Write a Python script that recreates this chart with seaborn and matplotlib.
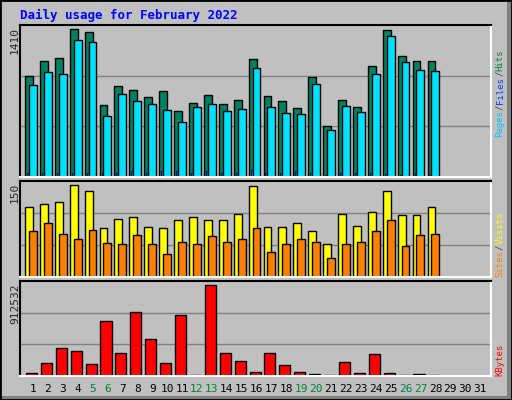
import numpy as np
import matplotlib
matplotlib.use('Agg')
import matplotlib.pyplot as plt
import seaborn as sns
from matplotlib.patches import Rectangle

# === DATA ===
days = np.arange(1, 29)
hits = [960, 1104, 1132, 1410, 1381, 683, 864, 826, 759, 817, 625, 702, 778, 692,
        730, 1123, 769, 721, 654, 951, 482, 730, 664, 1056, 1400, 1152, 1104, 1104]
files = [874, 998, 979, 1305, 1286, 577, 788, 721, 692, 635, 520, 664, 692, 625,
         644, 1037, 664, 606, 597, 884, 443, 673, 616, 979, 1343, 1094, 1018, 1008]
pages = [35, 40, 40, 40, 40, 35, 40, 55, 40, 55, 55, 35, 55, 40,
         35, 65, 40, 40, 55, 40, 20, 35, 35, 40, 30, 20, 35, 20]
visits = [114, 119, 122, 150, 139, 79, 95, 98, 82, 79, 92, 98, 92, 92,
          103, 148, 82, 82, 87, 74, 53, 103, 83, 106, 139, 101, 100, 114]
sites = [74, 87, 70, 62, 77, 56, 54, 69, 53, 38, 57, 54, 67, 57,
         61, 79, 41, 53, 62, 57, 31, 54, 57, 74, 92, 51, 69, 70]
kbytes = [33300, 133000, 283000, 253000, 123000, 553000, 233000, 643000, 373000, 133000,
          613000, 13000, 912532, 233000, 153000, 43000, 233000, 113000, 43000, 23000,
          13000, 143000, 33000, 223000, 33000, 13000, 23000, 13000]
weekend = [5, 6, 12, 13, 19, 20, 26, 27]

sns.set_style('white')
plt.rcParams['font.family'] = ['DejaVu Sans Mono', 'DejaVu Sans']

W, H = 512, 400
fig = plt.figure(figsize=(W / 100, H / 100), dpi=100, facecolor='#C0C0C0')
# outer frame with shadow on right / bottom
fig.patches.append(Rectangle((507 / W, 0), 5 / W, 1, transform=fig.transFigure,
                             facecolor='#808080', edgecolor='none'))
fig.patches.append(Rectangle((0, 0), 1, 4 / H, transform=fig.transFigure,
                             facecolor='#808080', edgecolor='none'))
fig.patches.append(Rectangle((0, 0), 1, 1, transform=fig.transFigure, fill=False,
                             edgecolor='black', lw=2))


def make_ax(top, bottom):
    ax = fig.add_axes([20 / W, 1 - bottom / H, 471 / W, (bottom - top) / H])
    ax.set_facecolor('#C0C0C0')
    ax.set_xlim(0.13, 31.73)
    for s in ax.spines.values():
        s.set_color('white')
        s.set_linewidth(1.5)
    ax.spines['left'].set_color('black')
    ax.spines['top'].set_color('black')
    ax.set_xticks([])
    ax.set_yticks([])
    return ax


def grid(ax, top):
    ax.set_ylim(0, top)
    for f in (1 / 3, 2 / 3):
        ax.axhline(top * f, color='#808080', lw=1, zorder=0)


# === HITS / FILES / PAGES ===
ax1 = make_ax(25, 177)
grid(ax1, 1448)
ax1.bar(days - 0.53, hits, width=0.53, align='edge', color='#008060', edgecolor='black', lw=1)
ax1.bar(days - 0.27, files, width=0.53, align='edge', color='#00E0FF', edgecolor='black', lw=1)
ax1.bar(days - 0.4, pages, width=0.13, align='edge', color='#0040FF', edgecolor='black', lw=0.5)
fig.text(15 / W, 1 - 27 / H, '1410', rotation=90, ha='center', va='top', fontsize=8)
fig.text(20 / W, 1 - 15 / H, 'Daily usage for February 2022', color='#0000FF',
         fontsize=9, fontweight='bold', va='center')

# === VISITS / SITES ===
ax2 = make_ax(181, 277)
grid(ax2, 156)
ax2.bar(days - 0.53, visits, width=0.53, align='edge', color='#FFFF00', edgecolor='black', lw=1)
ax2.bar(days - 0.27, sites, width=0.53, align='edge', color='#FF8000', edgecolor='black', lw=1)
fig.text(15 / W, 1 - 183 / H, '150', rotation=90, ha='center', va='top', fontsize=8)

# === KBYTES ===
ax3 = make_ax(281, 376)
grid(ax3, 950000)
ax3.bar(days - 0.47, kbytes, width=0.74, align='edge', color='#FF0000', edgecolor='black', lw=1)
fig.text(15 / W, 1 - 284 / H, '912532', rotation=90, ha='center', va='top', fontsize=8)

# day labels
for d in range(1, 32):
    x = (20 + (d - 0.13) * 471 / 31.6) / W
    fig.text(x, 1 - 389 / H, str(d), ha='center', va='center', fontsize=8,
             color='#008040' if d in weekend else 'black')


# right side legends, drawn bottom-up piece by piece
def side(parts, y_bottom):
    y = 1 - y_bottom / H
    for txt, col in parts:
        fig.text(500 / W, y, txt, rotation=90, ha='center', va='bottom',
                 fontsize=6.5, color=col)
        y += len(txt) * 5.5 / H

side([('Pages', '#00C0FF'), ('/', '#404040'), ('Files', '#0040FF'),
      ('/', '#404040'), ('Hits', '#008040')], 137)
side([('Sites', '#FF8000'), ('/', '#404040'), ('Visits', '#FFFF00')], 277)
side([('KBytes', '#FF0000')], 376)

fig.savefig('out.png', dpi=100, facecolor=fig.get_facecolor())
